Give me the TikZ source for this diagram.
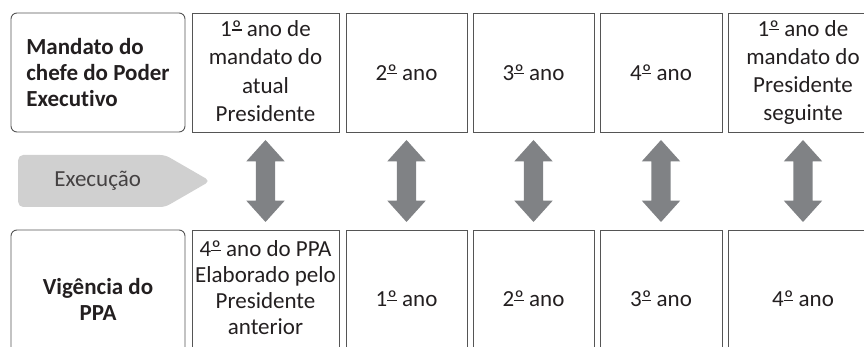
\documentclass[tikz,border=0pt]{standalone}
\usepackage{fontspec}
\setmainfont{Carlito}[Ligatures=NoCommon]
\usepackage{tikz}
\usetikzlibrary{positioning, shapes, shapes.arrows, shapes.symbols, calc}
\definecolor{linegray}{RGB}{85,85,85}
\definecolor{textgray}{RGB}{35,31,32}
\definecolor{execgray}{RGB}{208,208,208}
\definecolor{arrowgray}{RGB}{128,130,133}
% underlined ordinal indicator
\newcommand{\ordo}{{\setbox0\hbox{º}\copy0\llap{\rule[6pt]{\wd0}{1.1pt}}}}
\tikzstyle{yr}=[%
      rectangle, draw=linegray, line width=0.9pt, fill=none, text=textgray,
      align=center, inner sep=2pt, outer sep=0pt, minimum height=119pt,
      font=\fontsize{23}{26}\selectfont
]
\tikzstyle{hd}=[%
      rectangle, rounded corners=6pt, draw=linegray, line width=0.9pt, text=textgray,
      inner sep=2pt, outer sep=0pt, minimum width=174pt,
      font=\fontsize{23}{26}\selectfont\bfseries
]
\tikzstyle{dbl}=[%
      double arrow, fill=arrowgray, draw=none, rotate=90, inner xsep=0pt, inner ysep=9.5pt,
      minimum height=82pt, double arrow head extend=9.5pt, double arrow tip angle=84
]
\tikzstyle{ex}=[%
      signal, signal to=east, signal pointer angle=60, fill=execgray, rounded corners=5pt,
      minimum width=192pt, minimum height=52pt, text=textgray!85,
      font=\fontsize{23}{26}\selectfont
]
\tikzstyle{tall}=[%
      font=\fontsize{23}{28.3}\selectfont, execute at end node={\rule[-3pt]{0pt}{3pt}}
]

\begin{document}
\begin{tikzpicture}[x=1pt, y=-1pt]
    \useasboundingbox (0,0) rectangle (864,347);
    \clip (0,0) rectangle (864,347);
    % mandato
    \node[hd, align=left, minimum height=119pt, anchor=north west] (mhd) at (11,13)
         {Mandato do\\chefe do Poder\\Executivo};
    \node[yr, tall, minimum width=147pt] (m1) [right = 7pt of mhd] {1\ordo{} ano de\\mandato do\\atual\\Presidente};
    \node[yr, minimum width=121pt] (m2) [right = 7pt of m1] {2\ordo{} ano};
    \node[yr, minimum width=121pt] (m3) [right = 6pt of m2] {3\ordo{} ano};
    \node[yr, minimum width=122pt] (m4) [right = 6pt of m3] {4\ordo{} ano};
    \node[yr, tall, minimum width=150pt] (m5) [right = 6pt of m4] {1\ordo{} ano de\\mandato do\\Presidente\\seguinte};
    % vigencia
    \node[hd, align=center, minimum height=138pt] (phd) [below = 98pt of mhd] {Vigência do\\PPA};
    \node[yr, minimum width=147pt, minimum height=138pt] (p1) [below = 98pt of m1]
         {4\ordo{} ano do PPA\\Elaborado pelo\\Presidente\\anterior\rule[-22pt]{0pt}{22pt}};
    \node[yr, minimum width=121pt, minimum height=138pt] (p2) [below = 98pt of m2] {1\ordo{} ano};
    \node[yr, minimum width=121pt, minimum height=138pt] (p3) [below = 98pt of m3] {2\ordo{} ano};
    \node[yr, minimum width=122pt, minimum height=138pt] (p4) [below = 98pt of m4] {3\ordo{} ano};
    \node[yr, minimum width=150pt, minimum height=138pt] (p5) [below = 98pt of m5] {4\ordo{} ano};
    % execucao
    \node[ex, anchor=west] (exec) at (18,181) {\hspace*{12pt}Execução};
    \foreach \i in {1,...,5}
        \node[dbl] (a\i) at ($(m\i.south)!0.5!(p\i.north)$) {};
\end{tikzpicture}
\end{document}
